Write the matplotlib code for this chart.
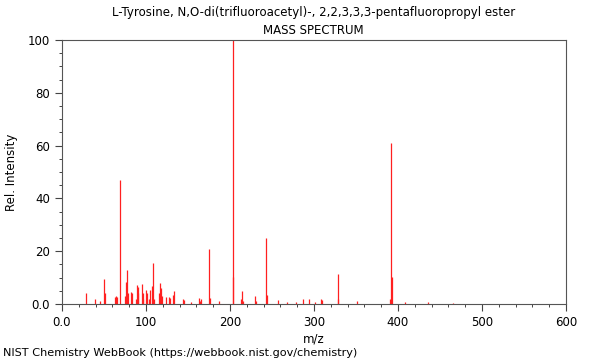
import matplotlib

matplotlib.use("Agg")
import matplotlib.pyplot as plt
from matplotlib.ticker import FuncFormatter, MultipleLocator

# peak list (m/z, relative intensity)
mz = [28, 39, 45, 50, 51, 63, 64, 65, 69, 75, 76, 77, 78, 82, 83,
      88, 89, 90, 91, 95, 96, 97, 100, 101, 103, 105, 107, 108, 110,
      116, 117, 118, 119, 124, 127, 129, 132, 133, 144, 145, 154,
      163, 164, 166, 175, 176, 187, 203, 204, 213, 214, 215, 230, 231,
      243, 244, 257, 268, 279, 287, 294, 301, 308, 309, 328, 329, 351,
      391, 392, 393, 408, 436, 466]
intensity = [4.2, 2.0, 1.0, 9.3, 4.0, 2.5, 3.0, 2.5, 47.0, 3.0, 8.4, 12.8, 4.0, 4.5, 4.0,
             2.0, 7.2, 6.5, 4.0, 7.4, 4.0, 2.0, 5.3, 4.0, 1.8, 5.3, 7.0, 15.5, 2.0,
             4.0, 8.1, 6.0, 3.0, 2.5, 2.6, 2.3, 3.4, 5.0, 2.0, 1.5, 0.9,
             2.2, 1.2, 1.8, 21.0, 2.2, 1.0, 100.0, 10.4, 2.0, 4.9, 1.0, 3.2, 1.0,
             25.0, 3.4, 1.5, 0.8, 0.8, 1.9, 1.9, 0.8, 1.9, 1.5, 11.3, 2.0, 1.2,
             2.0, 61.0, 10.1, 0.7, 0.7, 0.5]

title = "L-Tyrosine, N,O-di(trifluoroacetyl)-, 2,2,3,3,3-pentafluoropropyl ester"
subtitle = "MASS SPECTRUM"
footer = "NIST Chemistry WebBook (https://webbook.nist.gov/chemistry)"


def _fmt(v, pos):
    return "0.0" if v == 0 else f"{v:.0f}"


fig = plt.figure(figsize=(6.0, 3.6), dpi=100)
ax = fig.add_axes([0.1033, 0.1556, 0.84, 0.7333])

ax.vlines(mz, 0, intensity, color="#ff2020", linewidth=0.9)

ax.set_xlim(0, 600)
ax.set_ylim(0, 100)
ax.xaxis.set_major_locator(MultipleLocator(100))
ax.xaxis.set_minor_locator(MultipleLocator(20))
ax.yaxis.set_major_locator(MultipleLocator(20))
ax.yaxis.set_minor_locator(MultipleLocator(5))
ax.xaxis.set_major_formatter(FuncFormatter(_fmt))
ax.yaxis.set_major_formatter(FuncFormatter(_fmt))
ax.tick_params(which="major", length=5, width=0.8, labelsize=8.5, color="#444444")
ax.tick_params(which="minor", length=2.5, width=0.7, color="#444444")
for sp in ax.spines.values():
    sp.set_color("#555555")
    sp.set_linewidth(0.8)

ax.set_xlabel("m/z", fontsize=8.5, labelpad=3)
ax.set_ylabel("Rel. Intensity", fontsize=8.5, labelpad=7)

# titles are centred over the plot area, not the figure
fig.text(0.523, 0.965, title, ha="center", va="center", fontsize=8.5)
fig.text(0.523, 0.915, subtitle, ha="center", va="center", fontsize=8.5)
fig.text(0.005, 0.02, footer, ha="left", va="center", fontsize=8.1)

fig.savefig("out.png", dpi=100)
plt.close(fig)
